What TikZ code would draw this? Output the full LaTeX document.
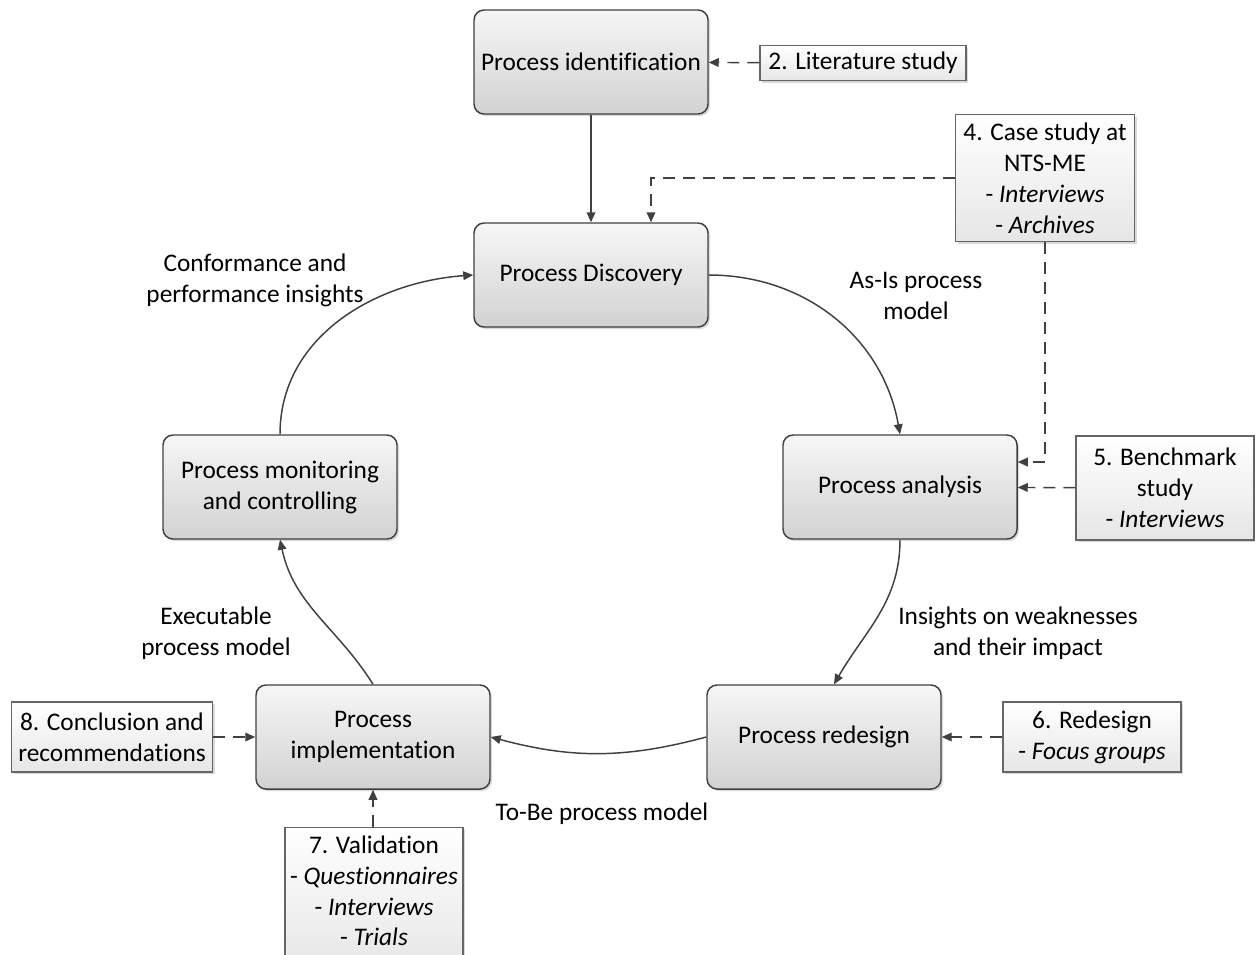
\documentclass[tikz,border=0pt]{standalone}
\usepackage{fontspec}
\setmainfont{Carlito}[Ligatures=CommonOff]
\usetikzlibrary{arrows.meta,shadows,calc}

\definecolor{linegray}{HTML}{404040}
\definecolor{boxtop}{HTML}{F6F6F6}
\definecolor{boxbottom}{HTML}{D2D2D2}
\definecolor{sidebottom}{HTML}{E6E6E6}

\tikzset{
  every node/.style={font=\fontsize{19}{23.2}\selectfont, text=black},
  phase/.style={draw=linegray, line width=1.1pt, rounded corners=7.5pt,
    top color=boxtop, bottom color=boxbottom, align=center,
    minimum width=175.5pt, minimum height=78pt,
    drop shadow={shadow xshift=1.5pt, shadow yshift=-1.5pt, opacity=0.3}},
  source/.style={draw=linegray!80, line width=0.8pt,
    top color=white, bottom color=sidebottom, align=center, inner sep=3pt,
    drop shadow={shadow xshift=1.5pt, shadow yshift=-1.5pt, opacity=0.3}},
  label/.style={align=center},
  flow/.style={draw=linegray, line width=1.1pt, -{Triangle[length=7.5pt,width=6.5pt]}},
  feed/.style={flow, dash pattern=on 9pt off 6pt}
}

\begin{document}
\begin{tikzpicture}[x=0.75pt, y=-0.75pt]
  \useasboundingbox (0,0) rectangle (1255,954);
  \clip (0,0) rectangle (1255,954);

  % the six lifecycle phases
  \node[phase] (ident) at (591,62)  {Process identification};
  \node[phase] (disc)  at (591,275) {Process Discovery};
  \node[phase] (ana)   at (900,487) {Process analysis};
  \node[phase] (red)   at (824,737) {Process redesign};
  \node[phase] (impl)  at (373,737) {Process\\implementation};
  \node[phase] (mon)   at (280,487) {Process monitoring\\and controlling};

  % research activities feeding the phases
  \node[source, minimum width=154.5pt, minimum height=26.25pt] (lit) at (863,63) {2. Literature study};
  \node[source, minimum width=134.25pt, minimum height=95.25pt] (case) at (1045,178)
    {4. Case study at\\NTS-ME\\- \textit{Interviews}\\- \textit{Archives}};
  \node[source, minimum width=133.5pt, minimum height=78pt] (bench) at (1165,488)
    {5. Benchmark\\study\\- \textit{Interviews}};
  \node[source, minimum width=133.5pt, minimum height=52.5pt] (rdes) at (1092,737)
    {6. Redesign\\- \textit{Focus groups}};
  \node[source, minimum width=150.75pt, minimum height=52.5pt] (concl) at (112,737)
    {8. Conclusion and\\recommendations};
  % this box runs on past the lower edge of the page
  \node[source, anchor=north, minimum width=133.5pt, inner xsep=0pt, inner ysep=6pt]
    (valid) at (374,827)
    {7. Validation\\- \textit{Questionnaires}\\- \textit{Interviews}\\- \textit{Trials}\rule[-14pt]{0pt}{0pt}};

  % cycle connectors
  \draw[flow] (ident) -- (disc);
  \draw[flow] (disc.east) to[out=0, in=100] (ana.north);
  \draw[flow] (ana.south) to[out=-90, in=60] ($(red.north)+(10,0)$);
  \draw[flow] (red.west) to[out=195, in=-15] (impl.east);
  \draw[flow] (impl.north) to[out=122, in=-78] (mon.south);
  \draw[flow] (mon.north) to[out=90, in=184] (disc.west);

  % dashed inputs
  \draw[feed] (lit) -- (ident);
  \draw[feed] (case.west) -| ($(disc.north)+(60,0)$);
  \draw[feed] (case.south) |- ($(ana.east)+(0,-25)$);
  \draw[feed] (bench) -- (ana);
  \draw[feed] (rdes) -- (red);
  \draw[feed] (concl) -- (impl);
  \draw[feed] (impl.south |- valid.north) -- (impl.south);

  % connector labels
  \node[label] (lconf) at (255,280) {Conformance and\\performance insights};
  \node[label] (lasis) at (916,296) {As-Is process\\model};
  \node[label] (lins)  at (1018,633) {Insights on weaknesses\\and their impact};
  \node[label] (ltobe) at (602,814) {To-Be process model};
  \node[label] (lexec) at (216,633) {Executable\\process model};
\end{tikzpicture}
\end{document}
